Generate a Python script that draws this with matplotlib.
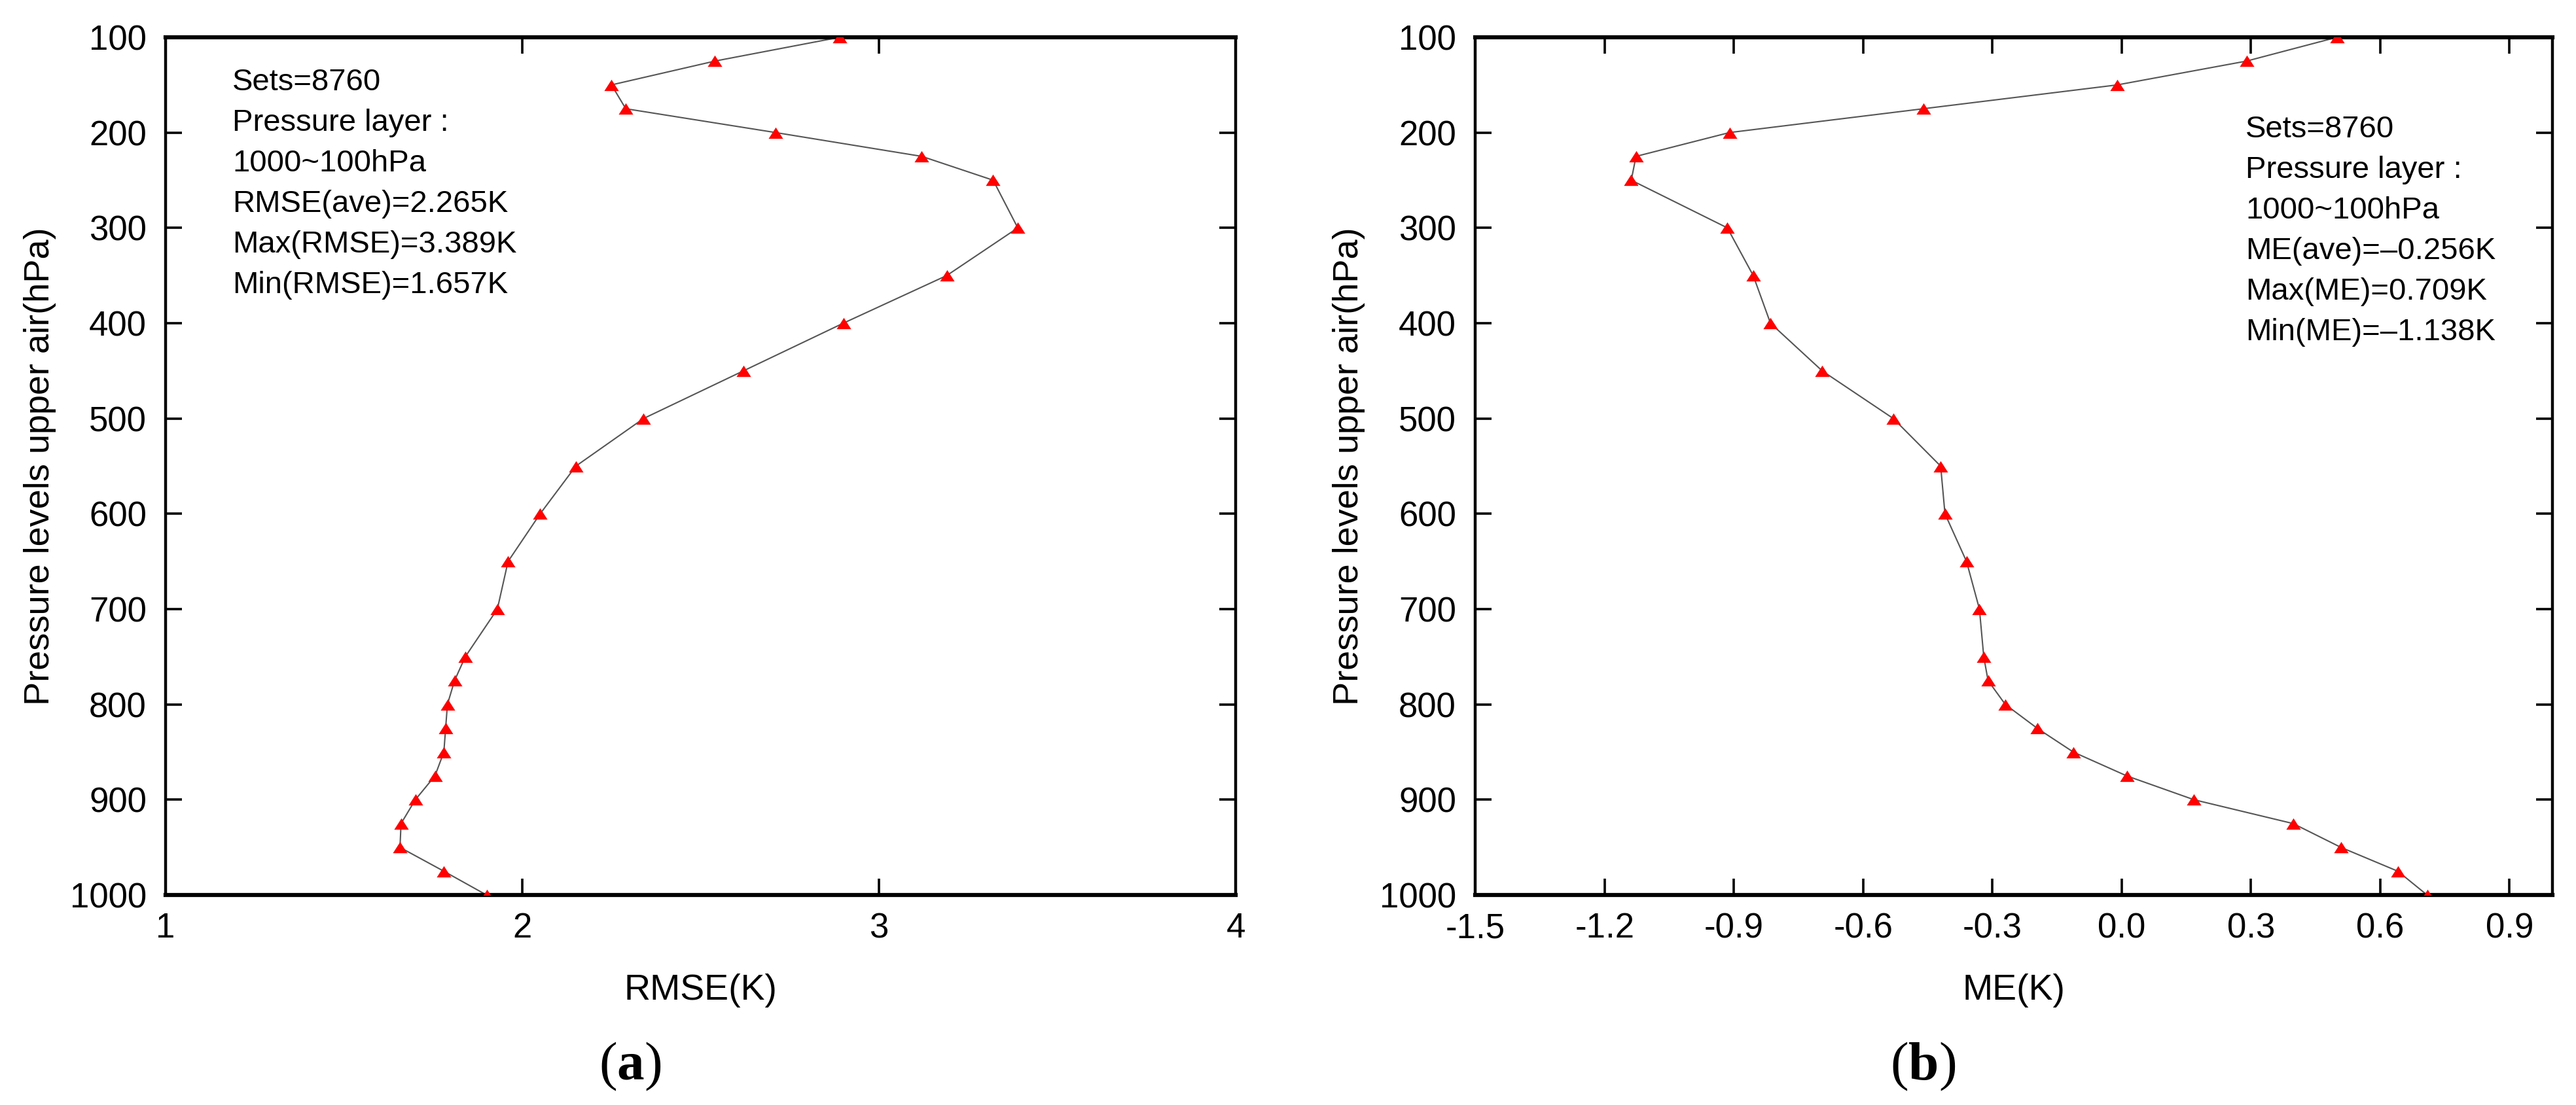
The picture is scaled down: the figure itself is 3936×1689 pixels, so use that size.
import matplotlib.pyplot as plt
import matplotlib.ticker as mticker

plt.rcParams['font.family'] = ['Liberation Sans', 'DejaVu Sans']
plt.rcParams['mathtext.fontset'] = 'custom'
plt.rcParams['mathtext.rm'] = 'Liberation Serif'
plt.rcParams['mathtext.bf'] = 'Liberation Serif:bold'

# pressure levels (hPa)
levels = [100, 125, 150, 175, 200, 225, 250, 300, 350, 400, 450, 500, 550,
          600, 650, 700, 750, 775, 800, 825, 850, 875, 900, 925, 950, 975, 1000]

# (a) RMSE(K)
rmse = [2.89, 2.54, 2.25, 2.29, 2.71, 3.12, 3.32, 3.389, 3.19, 2.90, 2.62,
        2.34, 2.15, 2.05, 1.96, 1.93, 1.84, 1.81, 1.79, 1.785, 1.78, 1.755,
        1.70, 1.66, 1.657, 1.78, 1.90]

# (b) ME(K)
me = [0.50, 0.29, -0.01, -0.46, -0.91, -1.127, -1.138, -0.915, -0.855, -0.815,
      -0.695, -0.53, -0.42, -0.41, -0.36, -0.33, -0.32, -0.31, -0.27, -0.196,
      -0.112, 0.012, 0.168, 0.398, 0.509, 0.641, 0.709]

rmse_notes = ['Sets=8760', 'Pressure layer :', '1000~100hPa',
              'RMSE(ave)=2.265K', 'Max(RMSE)=3.389K', 'Min(RMSE)=1.657K']
me_notes = ['Sets=8760', 'Pressure layer :', '1000~100hPa',
            'ME(ave)=\u20130.256K', 'Max(ME)=0.709K', 'Min(ME)=\u20131.138K']

rmse_ticks = [1, 2, 3, 4]
me_ticks = [-1.5, -1.2, -0.9, -0.6, -0.3, 0.0, 0.3, 0.6, 0.9]

fig = plt.figure(figsize=(39.36, 16.89), dpi=100)
axA = fig.add_axes([0.0643, 0.190, 0.4154, 0.7763])
axB = fig.add_axes([0.5727, 0.190, 0.4182, 0.7763])

tri = [(-1, -0.78), (1, -0.78), (0, 0.78), (-1, -0.78)]


def style(ax, xlabel):
    ax.plot(ax_x[ax], levels, color='#555555', lw=1.5, zorder=2)
    ax.plot(ax_x[ax], levels, ls='none', marker=tri, ms=16, color='red',
            markeredgewidth=0, zorder=3)
    ax.set_ylim(1000, 100)
    ax.set_yticks(range(100, 1001, 100))
    ax.tick_params(direction='in', length=18, width=2.6, top=True, right=True,
                   labelsize=38)
    ax.tick_params(axis='x', pad=19)
    ax.tick_params(axis='y', pad=21)
    for s in ['top', 'bottom']:
        ax.spines[s].set_linewidth(4.5)
    for s in ['left', 'right']:
        ax.spines[s].set_linewidth(3.2)
    ax.set_xlabel(xlabel, fontsize=40)
    ax.set_ylabel('Pressure levels upper air(hPa)', fontsize=39)
    ax.xaxis.set_label_coords(0.5, -0.0916)
    ax.yaxis.set_label_coords(-0.102, 0.5)


ax_x = {axA: rmse, axB: me}

style(axA, 'RMSE(K)')
axA.set_xlim(1, 4)
axA.set_xticks(rmse_ticks)

style(axB, 'ME(K)')
axB.set_xlim(-1.5, 1.0)
axB.set_xticks(me_ticks)
axB.xaxis.set_major_formatter(mticker.FormatStrFormatter('%.1f'))

for i, t in enumerate(rmse_notes):
    axA.text(0.0624, 0.9382 - i * 0.0473, t, transform=axA.transAxes,
             fontsize=34, ha='left', va='baseline')
for i, t in enumerate(me_notes):
    axB.text(0.715, 0.8832 - i * 0.0473, t, transform=axB.transAxes,
             fontsize=34, ha='left', va='baseline')

fig.text(963 / 3936, 1 - 1630 / 1689, r'($\mathbf{a}$)', fontsize=60,
         family='Liberation Serif', ha='center', va='center')
fig.text(2938 / 3936, 1 - 1630 / 1689, r'($\mathbf{b}$)', fontsize=60,
         family='Liberation Serif', ha='center', va='center')

fig.savefig('out.png', dpi=100)
